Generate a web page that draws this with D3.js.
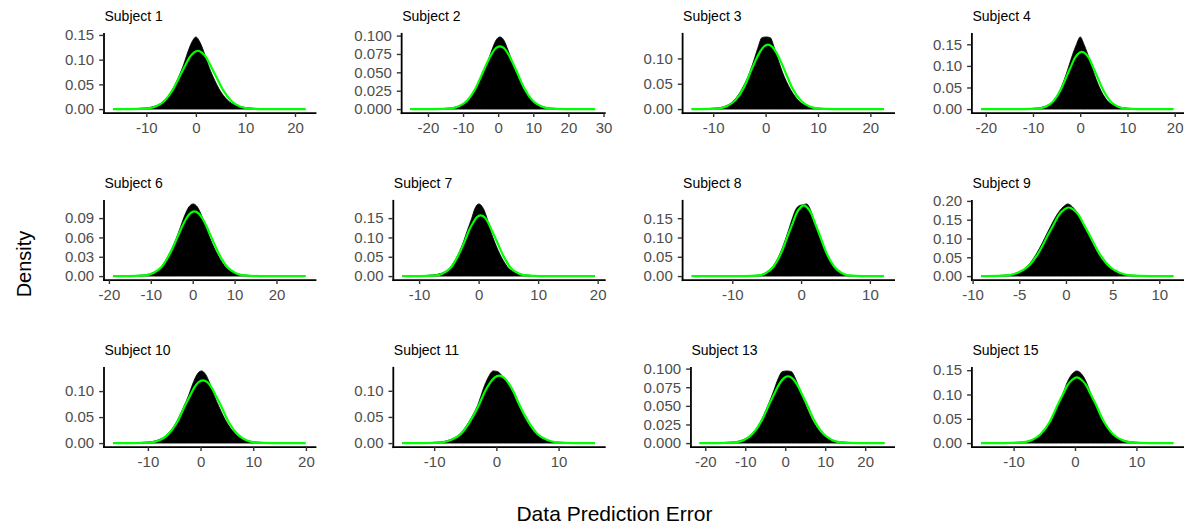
<!DOCTYPE html>
<html>
<head>
<meta charset="utf-8">
<script src="https://cdn.jsdelivr.net/npm/d3@7"></script>
<style>
  html, body { margin: 0; padding: 0; background: #ffffff; }
  svg text { font-family: "Liberation Sans", Arial, Helvetica, sans-serif; }
</style>
</head>
<body>
<svg id="chart" width="1184" height="527"></svg>
<script>
// Panel titles
const subjects = ["Subject 1", "Subject 2", "Subject 3", "Subject 4",
                  "Subject 6", "Subject 7", "Subject 8", "Subject 9",
                  "Subject 10", "Subject 11", "Subject 13", "Subject 15"];

// Tick labels per panel
const xTickLabels = [
  ["-10", "0", "10", "20"],
  ["-20", "-10", "0", "10", "20", "30"],
  ["-10", "0", "10", "20"],
  ["-20", "-10", "0", "10", "20"],
  ["-20", "-10", "0", "10", "20"],
  ["-10", "0", "10", "20"],
  ["-10", "0", "10"],
  ["-10", "-5", "0", "5", "10"],
  ["-10", "0", "10", "20"],
  ["-10", "0", "10"],
  ["-20", "-10", "0", "10", "20"],
  ["-10", "0", "10"]
];
const yTickLabels = [
  ["0.00", "0.05", "0.10", "0.15"],
  ["0.000", "0.025", "0.050", "0.075", "0.100"],
  ["0.00", "0.05", "0.10"],
  ["0.00", "0.05", "0.10", "0.15"],
  ["0.00", "0.03", "0.06", "0.09"],
  ["0.00", "0.05", "0.10", "0.15"],
  ["0.00", "0.05", "0.10", "0.15"],
  ["0.00", "0.05", "0.10", "0.15", "0.20"],
  ["0.00", "0.05", "0.10"],
  ["0.00", "0.05", "0.10"],
  ["0.000", "0.025", "0.050", "0.075", "0.100"],
  ["0.00", "0.05", "0.10", "0.15"]
];

// Empirical density of the prediction error (black area): x positions and densities
const densX = [
  [-16.7,-13.5,-10.1,-8.5,-6.8,-5.1,-3.4,-2.5,-1.7,-0.8,0,0.8,1.7,2.5,3.4,5.1,6.8,8.5,10.1,13.5,22.1],
  [-25.0,-18.2,-13.5,-11.2,-8.8,-6.5,-4.2,-3.0,-1.8,-0.7,0.5,1.7,2.8,4.0,5.2,7.5,9.8,12.2,14.5,19.2,27.6],
  [-14.1,-12.4,-9.3,-7.7,-6.2,-4.6,-3.0,-2.2,-1.5,-0.7,0.1,0.9,1.7,2.4,3.2,4.8,6.4,7.9,9.5,12.6,22.6],
  [-21.0,-12.0,-9.0,-7.5,-6.0,-4.5,-3.0,-2.3,-1.5,-0.8,0,0.8,1.5,2.3,3.0,4.5,6.0,7.5,9.0,12.0,19.7],
  [-19.0,-15.8,-11.8,-9.8,-7.8,-5.9,-3.9,-2.9,-1.9,-0.9,0.1,1.1,2.1,3.1,4.1,6.1,8.0,10.0,12.0,16.0,26.9],
  [-12.8,-10.1,-7.6,-6.3,-5.0,-3.8,-2.5,-1.9,-1.2,-0.6,0.04,0.7,1.3,1.9,2.6,3.9,5.1,6.4,7.7,10.2,19.5],
  [-15.9,-8.4,-6.2,-5.2,-4.1,-3.0,-1.9,-1.3,-0.8,-0.2,0.3,0.8,1.4,1.9,2.5,3.6,4.7,5.8,6.8,9.0,12.05],
  [-9.1,-8.6,-6.4,-5.3,-4.2,-3.1,-2.0,-1.4,-0.9,-0.3,0.2,0.7,1.3,1.8,2.4,3.5,4.6,5.7,6.8,9.0,11.5],
  [-16.6,-13.1,-9.8,-8.1,-6.5,-4.8,-3.2,-2.3,-1.5,-0.7,0.15,1.0,1.8,2.6,3.5,5.1,6.8,8.4,10.1,13.4,19.9],
  [-15.1,-12.1,-9.0,-7.5,-5.9,-4.4,-2.8,-2.1,-1.3,-0.5,0.25,1.0,1.8,2.6,3.3,4.9,6.4,8.0,9.5,12.6,15.8],
  [-21.4,-17.4,-13.0,-10.7,-8.5,-6.3,-4.1,-2.9,-1.8,-0.7,0.4,1.5,2.6,3.7,4.9,7.1,9.3,11.5,13.8,18.2,24.8],
  [-15.3,-11.5,-8.6,-7.1,-5.6,-4.1,-2.7,-1.9,-1.2,-0.4,0.3,1.0,1.8,2.5,3.3,4.7,6.2,7.7,9.2,12.1,16.0]
];
const densY = [
  [0,0.0006,0.0024,0.0053,0.0136,0.0335,0.0670,0.0890,0.1133,0.1357,0.1460,0.1357,0.1133,0.0890,0.0670,0.0340,0.0145,0.0065,0.0030,0.0007,0],
  [0,0.0003,0.0015,0.0041,0.0104,0.0260,0.0495,0.0645,0.0803,0.0931,0.0982,0.0931,0.0803,0.0645,0.0495,0.0260,0.0104,0.0041,0.0015,0.0003,0],
  [0,0.0005,0.0023,0.0057,0.0155,0.0380,0.0735,0.0975,0.1200,0.1410,0.1425,0.1410,0.1200,0.0975,0.0735,0.0380,0.0155,0.0061,0.0023,0.0005,0],
  [0,0.0007,0.0027,0.0060,0.0159,0.0392,0.0800,0.1034,0.1299,0.1498,0.1671,0.1498,0.1299,0.1034,0.0800,0.0405,0.0162,0.0073,0.0033,0.0008,0],
  [0,0.0004,0.0016,0.0045,0.0122,0.0310,0.0590,0.0765,0.0944,0.1074,0.1120,0.1074,0.0944,0.0765,0.0590,0.0312,0.0128,0.0050,0.0018,0.0004,0],
  [0,0.0008,0.0031,0.0071,0.0184,0.0455,0.0905,0.1180,0.1476,0.1758,0.1868,0.1774,0.1554,0.1228,0.0920,0.0470,0.0192,0.0086,0.0035,0.0008,0],
  [0,0.0004,0.0024,0.0082,0.0250,0.0610,0.1150,0.1480,0.1720,0.1830,0.1850,0.1870,0.1700,0.1400,0.1100,0.0580,0.0250,0.0085,0.0025,0.0004,0],
  [0,0.0004,0.0026,0.0084,0.0246,0.0621,0.1150,0.1442,0.1660,0.1840,0.1920,0.1840,0.1650,0.1390,0.1095,0.0566,0.0237,0.0084,0.0027,0.0004,0],
  [0,0.0005,0.0022,0.0058,0.0150,0.0365,0.0700,0.0910,0.1135,0.1316,0.1388,0.1316,0.1135,0.0910,0.0700,0.0375,0.0160,0.0066,0.0024,0.0005,0],
  [0,0.0004,0.0022,0.0062,0.0170,0.0410,0.0790,0.1040,0.1260,0.1380,0.1365,0.1270,0.1140,0.0975,0.0785,0.0410,0.0172,0.0062,0.0020,0.0004,0],
  [0,0.0004,0.0015,0.0042,0.0114,0.0278,0.0535,0.0700,0.0861,0.0960,0.0969,0.0960,0.0861,0.0700,0.0535,0.0278,0.0118,0.0045,0.0016,0.0004,0],
  [0,0.0005,0.0022,0.0061,0.0172,0.0415,0.0805,0.1040,0.1269,0.1431,0.1485,0.1431,0.1269,0.1040,0.0805,0.0415,0.0172,0.0068,0.0024,0.0005,0]
];

// Fitted normal curve (green line): x positions and densities
const fitX = [
  [-16.7,-13.1,-9.7,-8.1,-6.4,-4.7,-3.0,-2.1,-1.3,-0.4,0.4,1.2,2.1,2.9,3.8,5.5,7.2,8.9,10.5,13.9,22.1],
  [-25.0,-18.2,-13.5,-11.2,-8.8,-6.5,-4.2,-3.0,-1.8,-0.7,0.5,1.7,2.8,4.0,5.2,7.5,9.8,12.2,14.5,19.2,27.6],
  [-14.1,-12.1,-8.9,-7.4,-5.8,-4.2,-2.7,-1.9,-1.1,-0.3,0.45,1.2,2.0,2.8,3.6,5.1,6.7,8.3,9.8,13.0,22.6],
  [-21.0,-11.7,-8.7,-7.2,-5.7,-4.2,-2.7,-1.9,-1.2,-0.4,0.35,1.1,1.9,2.6,3.4,4.9,6.4,7.9,9.4,12.4,19.7],
  [-19.0,-15.5,-11.5,-9.5,-7.5,-5.6,-3.6,-2.6,-1.6,-0.6,0.4,1.4,2.4,3.4,4.4,6.4,8.3,10.3,12.3,16.3,26.9],
  [-12.8,-9.8,-7.3,-6.0,-4.7,-3.5,-2.2,-1.6,-0.9,-0.3,0.34,1.0,1.6,2.2,2.9,4.2,5.4,6.7,8.0,10.5,19.5],
  [-15.9,-8.3,-6.1,-5.1,-4.0,-2.9,-1.8,-1.2,-0.7,-0.1,0.4,0.9,1.5,2.0,2.6,3.7,4.8,5.9,6.9,9.1,12.05],
  [-9.1,-8.5,-6.3,-5.2,-4.1,-3.0,-1.9,-1.3,-0.8,-0.2,0.3,0.8,1.4,1.9,2.5,3.6,4.7,5.8,6.9,9.1,11.5],
  [-16.6,-12.8,-9.5,-7.8,-6.2,-4.5,-2.9,-2.0,-1.2,-0.4,0.45,1.3,2.1,2.9,3.8,5.4,7.1,8.7,10.4,13.7,19.9],
  [-15.1,-11.9,-8.8,-7.3,-5.7,-4.2,-2.6,-1.9,-1.1,-0.3,0.45,1.2,2.0,2.8,3.5,5.1,6.6,8.2,9.7,12.8,15.8],
  [-21.4,-17.1,-12.7,-10.4,-8.2,-6.0,-3.8,-2.6,-1.5,-0.4,0.7,1.8,2.9,4.0,5.2,7.4,9.6,11.8,14.1,18.5,24.8],
  [-15.3,-11.5,-8.6,-7.1,-5.6,-4.1,-2.7,-1.9,-1.2,-0.4,0.3,1.0,1.8,2.5,3.3,4.7,6.2,7.7,9.2,12.1,16.0]
];
const fitY = [
  [0,0.0000,0.0013,0.0052,0.0160,0.0383,0.0716,0.0891,0.1041,0.1144,0.1180,0.1144,0.1041,0.0891,0.0716,0.0383,0.0160,0.0052,0.0013,0.0000,0],
  [0,0.0000,0.0009,0.0037,0.0116,0.0277,0.0518,0.0645,0.0754,0.0828,0.0854,0.0828,0.0754,0.0645,0.0518,0.0277,0.0116,0.0037,0.0009,0.0000,0],
  [0,0.0000,0.0014,0.0056,0.0172,0.0414,0.0773,0.0962,0.1124,0.1235,0.1274,0.1235,0.1124,0.0962,0.0773,0.0414,0.0172,0.0056,0.0014,0.0000,0],
  [0,0.0000,0.0015,0.0058,0.0179,0.0431,0.0804,0.1001,0.1170,0.1285,0.1326,0.1285,0.1170,0.1001,0.0804,0.0431,0.0179,0.0058,0.0015,0.0000,0],
  [0,0.0000,0.0011,0.0044,0.0136,0.0326,0.0609,0.0758,0.0886,0.0973,0.1004,0.0973,0.0886,0.0758,0.0609,0.0326,0.0136,0.0044,0.0011,0.0000,0],
  [0,0.0000,0.0017,0.0069,0.0212,0.0510,0.0952,0.1185,0.1386,0.1522,0.1570,0.1522,0.1386,0.1185,0.0952,0.0510,0.0212,0.0069,0.0017,0.0000,0],
  [0,0.0001,0.0020,0.0080,0.0248,0.0594,0.1110,0.1381,0.1615,0.1774,0.1830,0.1774,0.1615,0.1381,0.1110,0.0594,0.0248,0.0080,0.0020,0.0001,0],
  [0,0.0001,0.0020,0.0080,0.0247,0.0593,0.1107,0.1378,0.1611,0.1769,0.1825,0.1769,0.1611,0.1378,0.1107,0.0593,0.0247,0.0080,0.0020,0.0001,0],
  [0,0.0000,0.0013,0.0053,0.0163,0.0392,0.0732,0.0911,0.1065,0.1170,0.1207,0.1170,0.1065,0.0911,0.0732,0.0392,0.0163,0.0053,0.0013,0.0000,0],
  [0,0.0000,0.0014,0.0057,0.0175,0.0419,0.0782,0.0974,0.1138,0.1250,0.1290,0.1250,0.1138,0.0974,0.0782,0.0419,0.0175,0.0057,0.0014,0.0000,0],
  [0,0.0000,0.0010,0.0039,0.0121,0.0291,0.0544,0.0677,0.0792,0.0869,0.0897,0.0869,0.0792,0.0677,0.0544,0.0291,0.0121,0.0039,0.0010,0.0000,0],
  [0,0.0000,0.0015,0.0059,0.0183,0.0438,0.0819,0.1019,0.1191,0.1308,0.1350,0.1308,0.1191,0.1019,0.0819,0.0438,0.0183,0.0059,0.0015,0.0000,0]
];

// ---- layout ----
const W = 1184, H = 527;
const nCols = 4;
const colStart = 27, colStep = 289.3, rowStep = 167;
const labelPad = 38;          // space left of the y tick labels in each cell
const tickLen = 4.3, tickGap = 5;
const panelTopOff = 33.3, panelBottomOff = 112.7, panelWidthOff = 288;
const tickFont = 15, titleFont = 14;
const textGrey = "#4d4d4d";

const svg = d3.select("#chart");
svg.append("rect").attr("width", W).attr("height", H).attr("fill", "#ffffff");

subjects.forEach((name, i) => {
  const col = i % nCols, row = Math.floor(i / nCols);
  const cellLeft = colStart + col * colStep;
  const cellTop = row * rowStep;
  const g = svg.append("g");

  // width of the widest y tick label decides where the panel starts
  const probe = g.append("g").attr("font-size", tickFont);
  const widths = yTickLabels[i].map(t => probe.append("text").text(t).node().getComputedTextLength());
  probe.remove();
  const maxW = d3.max(widths);

  const left = cellLeft + labelPad + maxW + tickGap + tickLen;
  const right = cellLeft + panelWidthOff;
  const top = cellTop + panelTopOff;
  const bottom = cellTop + panelBottomOff;

  const allX = densX[i].concat(fitX[i]);
  const [x0, x1] = d3.extent(allX);
  const px = (x1 - x0) * 0.05;
  const x = d3.scaleLinear().domain([x0 - px, x1 + px]).range([left, right]);

  const yMax = d3.max(densY[i].concat(fitY[i]));
  const y = d3.scaleLinear().domain([-0.05 * yMax, 1.05 * yMax]).range([bottom, top]);

  // black density area
  const dens = densX[i].map((v, k) => [v, densY[i][k]]);
  g.append("path")
    .datum(dens)
    .attr("fill", "#000000")
    .attr("stroke", "#000000")
    .attr("stroke-width", 0.8)
    .attr("d", d3.area().x(d => x(d[0])).y0(y(0)).y1(d => y(d[1])).curve(d3.curveMonotoneX));

  // green fitted normal curve
  const fit = fitX[i].map((v, k) => [v, fitY[i][k]]);
  g.append("path")
    .datum(fit)
    .attr("fill", "none")
    .attr("stroke", "#00ff00")
    .attr("stroke-width", 2.2)
    .attr("stroke-linejoin", "round")
    .attr("d", d3.line().x(d => x(d[0])).y(d => y(d[1])).curve(d3.curveMonotoneX));

  // axes
  const yAxis = d3.axisLeft(y)
    .tickValues(yTickLabels[i].map(Number))
    .tickFormat((d, k) => yTickLabels[i][k])
    .tickSizeInner(tickLen).tickSizeOuter(0).tickPadding(tickGap);
  const ya = g.append("g").attr("transform", `translate(${left},0)`).call(yAxis);

  const xAxis = d3.axisBottom(x)
    .tickValues(xTickLabels[i].map(Number))
    .tickFormat((d, k) => xTickLabels[i][k])
    .tickSizeInner(tickLen).tickSizeOuter(0).tickPadding(5.5);
  const xa = g.append("g").attr("transform", `translate(0,${bottom})`).call(xAxis);

  [ya, xa].forEach(a => {
    a.attr("font-size", tickFont).attr("font-family", null);
    a.select(".domain").attr("stroke", "#000000").attr("stroke-width", 1.8).attr("stroke-linecap", "square");
    a.selectAll(".tick line").attr("stroke", "#333333").attr("stroke-width", 1.4);
    a.selectAll(".tick text").attr("fill", textGrey);
  });

  // panel title
  g.append("text")
    .attr("x", left + 1)
    .attr("y", cellTop + 20.5)
    .attr("font-size", titleFont)
    .attr("fill", "#000000")
    .text(name);
});

// shared axis titles
svg.append("text")
  .attr("transform", "translate(31,264) rotate(-90)")
  .attr("text-anchor", "middle")
  .attr("font-size", 20)
  .attr("fill", "#000000")
  .text("Density");

svg.append("text")
  .attr("x", 614.5)
  .attr("y", 521)
  .attr("text-anchor", "middle")
  .attr("font-size", 21)
  .attr("fill", "#000000")
  .text("Data Prediction Error");
</script>
</body>
</html>
